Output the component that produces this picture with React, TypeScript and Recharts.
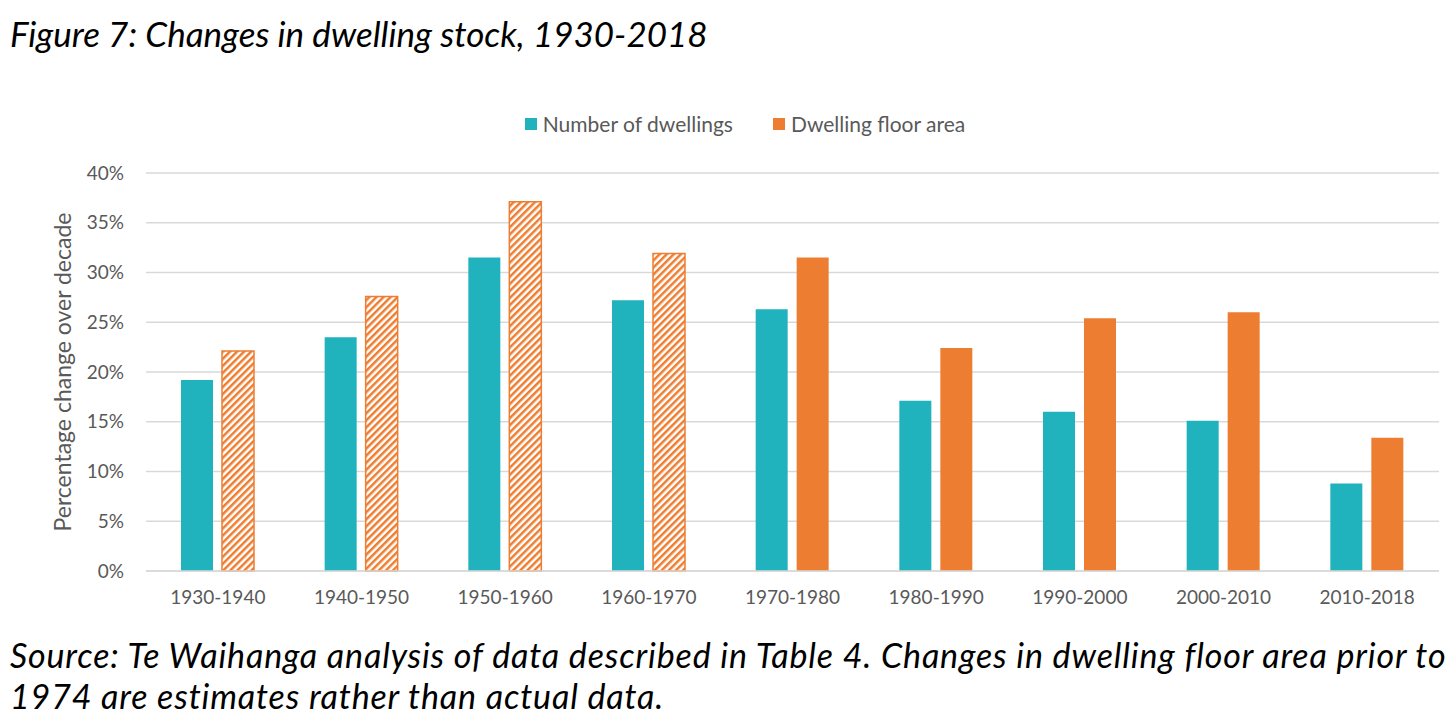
import { BarChart, Bar, XAxis, YAxis, CartesianGrid, Cell } from "recharts";

const decades = [
  "1930-1940",
  "1940-1950",
  "1950-1960",
  "1960-1970",
  "1970-1980",
  "1980-1990",
  "1990-2000",
  "2000-2010",
  "2010-2018"
];
const dwellingsChange = [19.2, 23.5, 31.5, 27.2, 26.3, 17.1, 16.0, 15.1, 8.8];
const floorAreaChange = [22.1, 27.6, 37.1, 31.9, 31.5, 22.4, 25.4, 26.0, 13.4];
// floor area before 1974 is estimated -> hatched bars
const floorAreaEstimated = [true, true, true, true, false, false, false, false, false];
const yTicks = [0, 5, 10, 15, 20, 25, 30, 35, 40];

const seriesNames = ["Number of dwellings", "Dwelling floor area"];
const TEAL = "#20B2BD";
const ORANGE = "#ED7D31";
const FONT = "Lato, 'Open Sans', sans-serif";

const data = decades.map((decade, i) => ({
  decade,
  dwellings: dwellingsChange[i],
  floorArea: floorAreaChange[i],
  estimated: floorAreaEstimated[i]
}));

const YLabel = (props: any) => {
  const vb = props.viewBox;
  const cx = vb.x - 24;
  const cy = vb.y + vb.height / 2;
  return (
    <text
      x={cx}
      y={cy}
      transform={`rotate(-90, ${cx}, ${cy})`}
      textAnchor="middle"
      dominantBaseline="central"
      fill="#595959"
      fontSize={23}
      fontFamily={FONT}
    >
      Percentage change over decade
    </text>
  );
};

export default function App() {
  return (
    <div
      style={{
        position: "absolute",
        left: 0,
        top: 0,
        width: 1456,
        height: 726,
        background: "#fff",
        fontFamily: FONT,
        overflow: "hidden"
      }}
    >
      <div
        style={{
          position: "absolute",
          left: 10,
          top: 12,
          fontSize: 35,
          fontStyle: "italic",
          color: "#000",
          whiteSpace: "nowrap"
        }}
      >
        Figure 7: Changes in dwelling stock, 1930-2018
      </div>

      <div
        style={{
          position: "absolute",
          left: 0,
          top: 111,
          width: 1490,
          display: "flex",
          justifyContent: "center",
          fontSize: 21,
          color: "#595959",
          whiteSpace: "nowrap"
        }}
      >
        {[TEAL, ORANGE].map((c, i) => (
          <div key={i} style={{ display: "flex", alignItems: "center", marginRight: i === 0 ? 40 : 0 }}>
            <span style={{ width: 12, height: 12, background: c, display: "inline-block", marginRight: 6 }} />
            <span>{seriesNames[i]}</span>
          </div>
        ))}
      </div>

      <div style={{ position: "absolute", left: 0, top: 0 }}>
        <BarChart
          width={1456}
          height={726}
          data={data}
          margin={{ top: 173, right: 17, left: 86, bottom: 125 }}
          barSize={32}
          barGap={9}
        >
          <defs>
            <pattern
              id="hatch"
              patternUnits="userSpaceOnUse"
              width={5}
              height={5}
              patternTransform="rotate(45)"
            >
              <rect x={0} y={0} width={5} height={5} fill="#fff" />
              <rect x={0} y={0} width={2.5} height={5} fill={ORANGE} />
            </pattern>
          </defs>
          <CartesianGrid vertical={false} stroke="#D9D9D9" strokeWidth={1.5} />
          <XAxis
            dataKey="decade"
            height={30}
            tickLine={false}
            axisLine={{ stroke: "#D9D9D9", strokeWidth: 1.5 }}
            tickSize={0}
            tickMargin={20}
            interval={0}
            tick={{ fill: "#595959", fontSize: 19, fontFamily: FONT }}
          />
          <YAxis
            width={60}
            domain={[0, 40]}
            ticks={yTicks}
            tickFormatter={(v: number) => `${v}%`}
            axisLine={false}
            tickLine={false}
            tickSize={0}
            tickMargin={22}
            tick={{ fill: "#595959", fontSize: 19, fontFamily: FONT }}
            label={<YLabel />}
          />
          <Bar dataKey="dwellings" name={seriesNames[0]} fill={TEAL} isAnimationActive={false} />
          <Bar dataKey="floorArea" name={seriesNames[1]} fill={ORANGE} isAnimationActive={false}>
            {data.map((d, i) => (
              <Cell
                key={i}
                fill={d.estimated ? "url(#hatch)" : ORANGE}
                stroke={d.estimated ? ORANGE : "none"}
                strokeWidth={d.estimated ? 1.5 : 0}
              />
            ))}
          </Bar>
        </BarChart>
      </div>

      <div
        style={{
          position: "absolute",
          left: 10,
          top: 634,
          fontSize: 34,
          letterSpacing: 0.85,
          fontStyle: "italic",
          color: "#000",
          lineHeight: "41px",
          whiteSpace: "nowrap"
        }}
      >
        Source: Te Waihanga analysis of data described in Table 4. Changes in dwelling floor area prior to
        <br />
        1974 are estimates rather than actual data.
      </div>
    </div>
  );
}
